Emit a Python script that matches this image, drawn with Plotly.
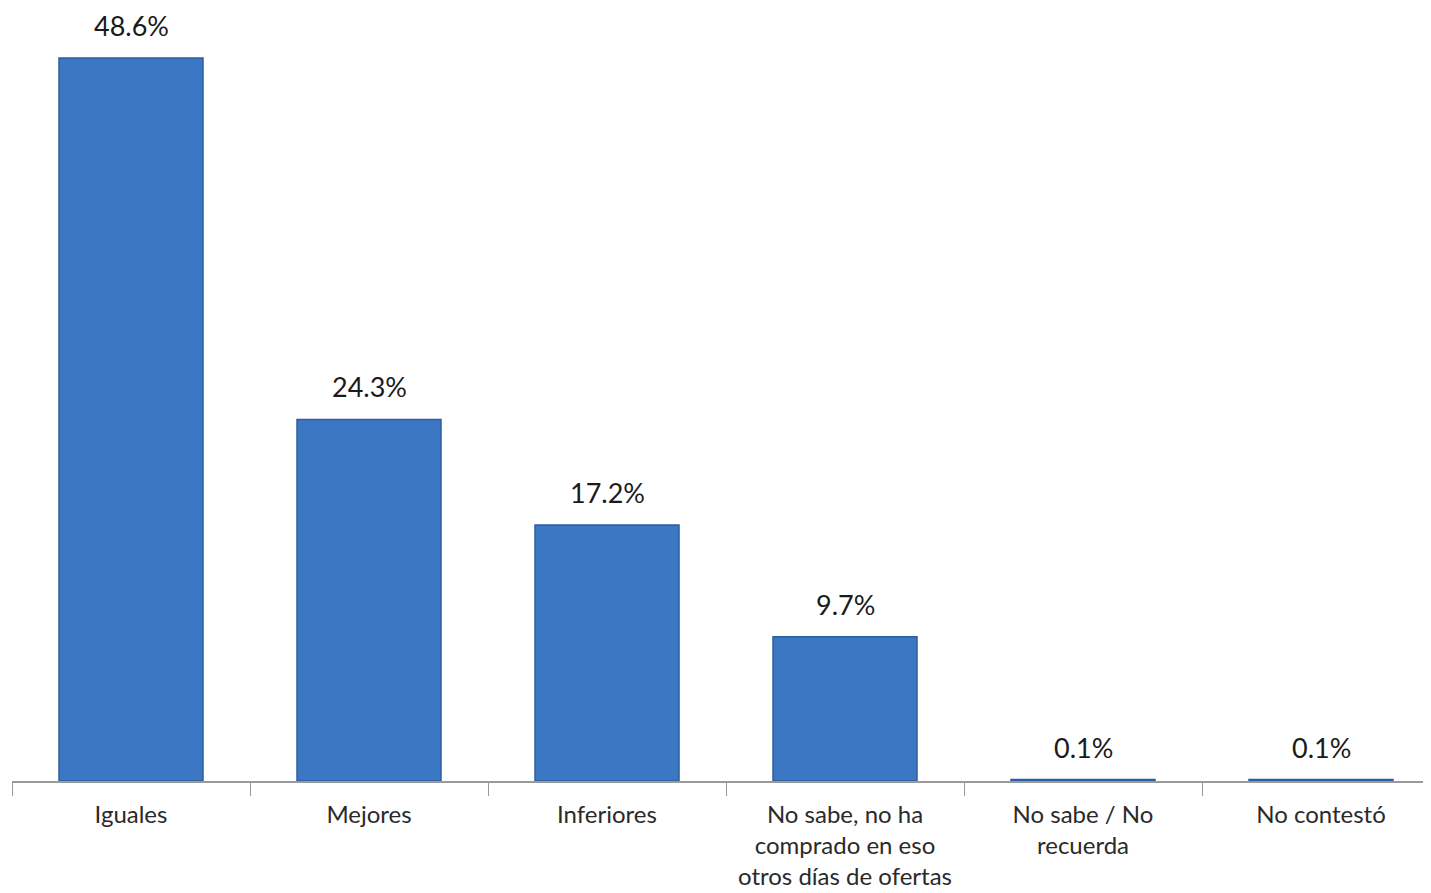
import plotly.graph_objects as go

categories = [
    "Iguales",
    "Mejores",
    "Inferiores",
    "No sabe, no ha<br>comprado en eso<br>otros días de ofertas",
    "No sabe / No<br>recuerda",
    "No contestó",
]
values = [48.6, 24.3, 17.2, 9.7, 0.1, 0.1]
value_labels = ["48.6%", "24.3%", "17.2%", "9.7%", "0.1%", "0.1%"]

FONT = "Lato, Open Sans, sans-serif"

fig = go.Figure()
fig.add_trace(
    go.Bar(
        x=categories,
        y=values,
        width=0.605,
        marker=dict(color="#3c77c3", line=dict(color="#2d5e9e", width=1.5)),
        hoverinfo="skip",
    )
)

for cat, val, lbl in zip(categories, values, value_labels):
    fig.add_annotation(
        x=cat,
        y=val,
        text=lbl,
        showarrow=False,
        yanchor="bottom",
        yshift=14,
        font=dict(size=27, color="#1a1a1a", family=FONT),
    )

# page body has an 8px margin, so the figure is a bit smaller than the window
fig.update_layout(
    width=1423,
    height=885,
    margin=dict(l=4, r=0, t=0, b=112, autoexpand=False),
    plot_bgcolor="white",
    paper_bgcolor="white",
    showlegend=False,
    font=dict(family=FONT, size=24, color="#333333"),
)
fig.update_xaxes(
    range=[-0.5, -0.5 + 1419 / 238],
    automargin=False,
    showline=True,
    linecolor="#9a9a9a",
    linewidth=1.5,
    ticks="outside",
    tickson="boundaries",
    ticklen=13,
    tickcolor="#9a9a9a",
    ticklabelstandoff=11,
    tickfont=dict(size=24, color="#2a2a2a"),
    showgrid=False,
)
fig.update_yaxes(
    range=[0, 773 / 14.877],
    visible=False,
    showgrid=False,
)

fig.write_html("out.html")
